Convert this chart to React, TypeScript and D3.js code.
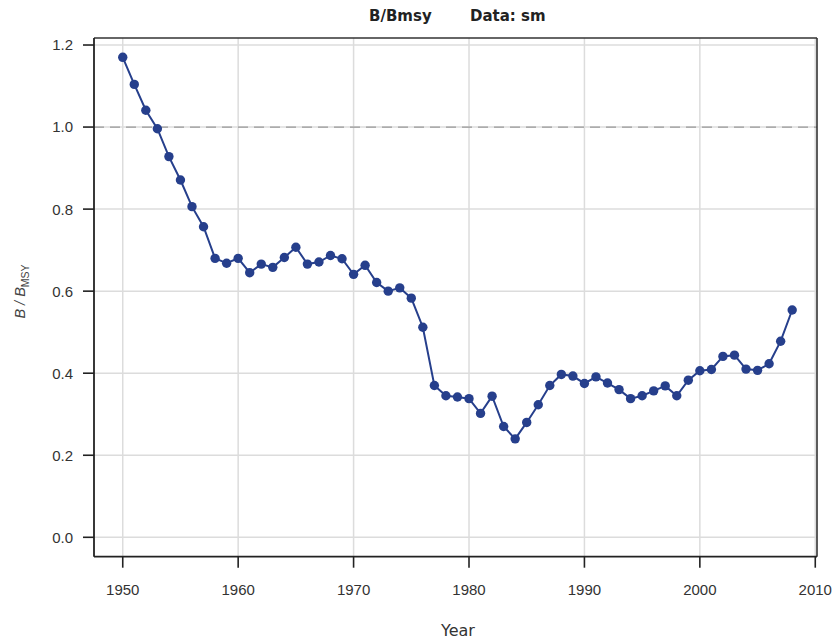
import React from "react";
import * as d3 from "d3";

const years: number[] = d3.range(1950, 2009);
const values: number[] = [
  1.170, 1.104, 1.041, 0.996, 0.928, 0.871, 0.806, 0.757, 0.680, 0.668,
  0.680, 0.645, 0.666, 0.658, 0.682, 0.707, 0.666, 0.671, 0.687, 0.679,
  0.641, 0.663, 0.621, 0.600, 0.608, 0.583, 0.512, 0.370, 0.345, 0.342,
  0.338, 0.302, 0.344, 0.270, 0.240, 0.280, 0.323, 0.370, 0.397, 0.393,
  0.375, 0.391, 0.376, 0.360, 0.338, 0.345, 0.357, 0.369, 0.345, 0.383,
  0.406, 0.409, 0.441, 0.444, 0.410, 0.407, 0.423, 0.478, 0.554,
];
const xTicks: number[] = [1950, 1960, 1970, 1980, 1990, 2000, 2010];
const yTicks: number[] = [0.0, 0.2, 0.4, 0.6, 0.8, 1.0, 1.2];
const refLine = 1.0;

const W = 836;
const H = 641;
const L = 94, R = 817, T = 38, B = 556.7;
const FONT = "DejaVu Sans, Verdana, sans-serif";
const SANS = "Liberation Sans, Arial, sans-serif";
const BLUE = "#263f8c";

export default function App() {
  const x = d3.scaleLinear().domain([1947.51, 2010.15]).range([L, R]);
  const y = d3.scaleLinear().domain([-0.0473, 1.2171]).range([B, T]);
  const line = d3
    .line<number>()
    .x((_, i) => x(years[i]))
    .y((d) => y(d));

  return (
    <svg
      width={W}
      height={H}
      style={{ position: "absolute", left: 0, top: 0, background: "#fff" }}
      fontFamily={FONT}
    >
      {/* grid */}
      {xTicks.map((t) => (
        <line key={"gx" + t} x1={x(t)} x2={x(t)} y1={T} y2={B} stroke="#dcdcdc" strokeWidth={1.5} />
      ))}
      {yTicks.map((t) => (
        <line key={"gy" + t} x1={L} x2={R} y1={y(t)} y2={y(t)} stroke="#dcdcdc" strokeWidth={1.5} />
      ))}
      {/* reference line */}
      <line x1={L} x2={R} y1={y(refLine)} y2={y(refLine)} stroke="#999" strokeWidth={1.3} strokeDasharray="10,6" />

      {/* frame */}
      <line x1={L} x2={R} y1={T} y2={T} stroke="#333" strokeWidth={1.6} />
      <line x1={R} x2={R} y1={T} y2={B} stroke="#333" strokeWidth={1.6} />
      <line x1={L} x2={L} y1={T} y2={B} stroke="#222" strokeWidth={1.8} />
      <line x1={L} x2={R} y1={B} y2={B} stroke="#222" strokeWidth={1.8} />

      {/* y axis ticks */}
      {yTicks.map((t) => (
        <g key={"yt" + t}>
          <line x1={L - 11} x2={L} y1={y(t)} y2={y(t)} stroke="#222" strokeWidth={1.6} />
          <text x={73} y={y(t)} dy="0.36em" textAnchor="end" fontSize={15} fontFamily={SANS} fill="#333">
            {d3.format(".1f")(t)}
          </text>
        </g>
      ))}
      {/* x axis ticks */}
      {xTicks.map((t) => (
        <g key={"xt" + t}>
          <line x1={x(t)} x2={x(t)} y1={B} y2={B + 11} stroke="#222" strokeWidth={1.6} />
          <text x={x(t)} y={595} textAnchor="middle" fontSize={15} fontFamily={SANS} fill="#333">
            {t}
          </text>
        </g>
      ))}

      {/* series */}
      <path d={line(values) || ""} fill="none" stroke={BLUE} strokeWidth={2} />
      {values.map((v, i) => (
        <circle key={"p" + i} cx={x(years[i])} cy={y(v)} r={4.7} fill={BLUE} />
      ))}

      {/* title */}
      <text x={369} y={21} fontSize={15} fontWeight="bold" fill="#222">B/Bmsy</text>
      <text x={470} y={21} fontSize={15} fontWeight="bold" fill="#222">Data: sm</text>

      {/* axis labels */}
      <text x={458} y={636} textAnchor="middle" fontSize={16} fill="#333">Year</text>
      <text
        transform={`translate(25,291.5) rotate(-90)`}
        textAnchor="middle"
        fontSize={14.5}
        fontFamily={SANS}
        fill="#444"
        fontStyle="italic"
      >
        B / B<tspan fontSize={10.5} dy={3.5} fontStyle="normal">MSY</tspan>
      </text>
    </svg>
  );
}
